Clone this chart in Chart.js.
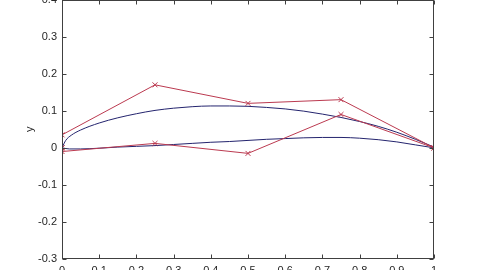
<!DOCTYPE html>
<html><head><meta charset="utf-8">
<script src="https://cdn.jsdelivr.net/npm/chart.js@4"></script>
<style>
html,body{margin:0;padding:0;background:#fff;overflow:hidden;width:480px;height:270px;}
#wrap{position:absolute;left:0;top:-12px;width:480px;height:296px;}
</style></head>
<body><div id="wrap"><canvas id="c" width="480" height="296"></canvas></div>
<script>
// Control polygon (red, x markers)
const upperCtrlX = [0, 0, 0.25, 0.5, 0.75, 1];
const upperCtrlY = [0, 0.035, 0.17, 0.12, 0.13, 0];
const lowerCtrlX = [0, 0, 0.25, 0.5, 0.75, 1];
const lowerCtrlY = [0, -0.01, 0.012, -0.015, 0.09, 0];
// Smooth curves (blue)
const upperCurveX = [0, 0.01, 0.025, 0.05, 0.1, 0.15, 0.2, 0.25, 0.3, 0.35, 0.4, 0.45, 0.5, 0.55, 0.6, 0.65, 0.7, 0.75, 0.8, 0.85, 0.9, 0.95, 1];
const upperCurveY = [0, 0.02, 0.034, 0.048, 0.067, 0.081, 0.092, 0.101, 0.107, 0.111, 0.113, 0.113, 0.112, 0.109, 0.105, 0.099, 0.091, 0.082, 0.071, 0.058, 0.042, 0.023, 0.002];
const lowerCurveX = [0, 0.02, 0.05, 0.1, 0.15, 0.2, 0.25, 0.3, 0.35, 0.4, 0.45, 0.5, 0.55, 0.6, 0.65, 0.7, 0.75, 0.8, 0.85, 0.9, 0.95, 1];
const lowerCurveY = [0, -0.003, -0.003, -0.001, 0.002, 0.004, 0.006, 0.009, 0.012, 0.015, 0.017, 0.02, 0.023, 0.025, 0.027, 0.028, 0.028, 0.026, 0.022, 0.016, 0.008, 0];
// Ticks
const xTicks = [0, 0.1, 0.2, 0.3, 0.4, 0.5, 0.6, 0.7, 0.8, 0.9, 1];
const xTickLabels = ['0', '0.1', '0.2', '0.3', '0.4', '0.5', '0.6', '0.7', '0.8', '0.9', '1'];
const yTicks = [-0.3, -0.2, -0.1, 0, 0.1, 0.2, 0.3, 0.4];
const yTickLabels = ['-0.3', '-0.2', '-0.1', '0', '0.1', '0.2', '0.3', '0.4'];
const yTitle = 'y';

const pts = (xs, ys) => xs.map((x, i) => ({x: x, y: ys[i]}));
const RED = '#bb3a50', BLUE = '#24246e', AXIS = '#404040', TXT = '#262626';

const boxPlugin = {
  id: 'box',
  afterDraw(chart) {
    const {ctx, chartArea: a, scales} = chart;
    ctx.save();
    ctx.strokeStyle = AXIS; ctx.lineWidth = 1;
    const L = Math.round(a.left) + 0.5, R = Math.round(a.right) - 0.5;
    const T = Math.round(a.top) + 0.5, B = Math.round(a.bottom) - 0.5;
    ctx.strokeRect(L, T, R - L, B - T);
    const len = 4;
    ctx.beginPath();
    xTicks.forEach(v => {
      const px = Math.round(scales.x.getPixelForValue(v)) + 0.5;
      ctx.moveTo(px, B); ctx.lineTo(px, B - len);
      ctx.moveTo(px, T); ctx.lineTo(px, T + len);
    });
    yTicks.forEach(v => {
      const py = Math.round(scales.y.getPixelForValue(v)) + 0.5;
      ctx.moveTo(L, py); ctx.lineTo(L + len, py);
      ctx.moveTo(R, py); ctx.lineTo(R - len, py);
    });
    ctx.stroke();
    ctx.restore();
  }
};

new Chart(document.getElementById('c'), {
  type: 'scatter',
  data: {
    datasets: [
      {data: pts(upperCtrlX, upperCtrlY), showLine: true, borderColor: RED, backgroundColor: RED, borderWidth: 1, pointStyle: 'crossRot', pointRadius: 3.5, pointBorderWidth: 1, pointBorderColor: RED, tension: 0},
      {data: pts(lowerCtrlX, lowerCtrlY), showLine: true, borderColor: RED, backgroundColor: RED, borderWidth: 1, pointStyle: 'crossRot', pointRadius: 3.5, pointBorderWidth: 1, pointBorderColor: RED, tension: 0},
      {data: pts(upperCurveX, upperCurveY), showLine: true, borderColor: BLUE, borderWidth: 1, pointRadius: 0, cubicInterpolationMode: 'monotone'},
      {data: pts(lowerCurveX, lowerCurveY), showLine: true, borderColor: BLUE, borderWidth: 1, pointRadius: 0, cubicInterpolationMode: 'monotone'}
    ]
  },
  options: {
    responsive: false, animation: false, devicePixelRatio: 1,
    layout: {padding: {top: 10, right: 46, left: 0, bottom: 0}},
    plugins: {legend: {display: false}, tooltip: {enabled: false}},
    scales: {
      x: {
        type: 'linear', min: 0, max: 1,
        afterBuildTicks: s => { s.ticks = xTicks.map(v => ({value: v})); },
        afterFit: s => { s.height = 25; },
        grid: {display: false, drawTicks: false},
        border: {display: false},
        ticks: {padding: 5, color: TXT, font: {family: 'Liberation Sans, Arial, sans-serif', size: 11}, maxRotation: 0, autoSkip: false,
          callback: (v, i) => xTickLabels[i]}
      },
      y: {
        type: 'linear', min: -0.3, max: 0.4,
        afterBuildTicks: s => { s.ticks = yTicks.map(v => ({value: v})); },
        afterFit: s => { s.width = 62; },
        grid: {display: false, drawTicks: false},
        border: {display: false},
        title: {display: true, text: yTitle, color: TXT, padding: {top: 23, bottom: 0}, font: {family: 'Liberation Sans, Arial, sans-serif', size: 11}},
        ticks: {padding: 5, color: TXT, font: {family: 'Liberation Sans, Arial, sans-serif', size: 11}, autoSkip: false,
          callback: (v, i) => yTickLabels[i]}
      }
    }
  },
  plugins: [boxPlugin]
});
</script></body></html>
